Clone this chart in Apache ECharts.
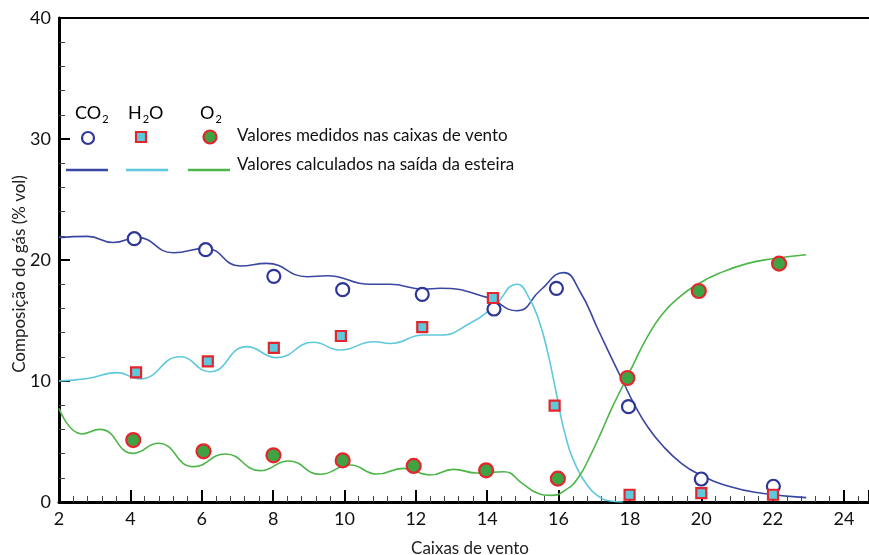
<!DOCTYPE html>
<html>
<head>
<meta charset="utf-8">
<script src="https://cdn.jsdelivr.net/npm/echarts@6/dist/echarts.min.js"></script>
<style>html,body{margin:0;padding:0;background:#fff}#c{width:869px;height:555px}</style>
</head>
<body>
<div id="c"></div>
<script>
// Measured values (box number, % vol)
const co2Measured = [[4.11,21.76],[6.11,20.85],[8.02,18.65],[9.95,17.55],[12.18,17.16],[14.19,15.95],[15.94,17.66],[17.96,7.88],[20.0,1.9],[22.02,1.3]];
const h2oMeasured = [[4.16,10.72],[6.17,11.62],[8.02,12.73],[9.9,13.72],[12.18,14.46],[14.16,16.86],[15.89,7.96],[17.99,0.6],[20.0,0.74],[22.01,0.6]];
const o2Measured  = [[4.08,5.12],[6.05,4.19],[8.01,3.86],[9.95,3.44],[11.94,2.98],[13.97,2.62],[15.98,1.93],[17.93,10.25],[19.93,17.44],[22.18,19.7]];
// Calculated values at the strand exit
const co2Calc = [[2,21.85],[2.8,21.95],[3.52,21.45],[4.2,21.85],[5.2,20.6],[6.11,20.96],[7.08,19.5],[7.82,19.72],[8.95,18.62],[9.51,18.7],[10.72,17.99],[11.27,17.99],[12.22,17.6],[12.68,17.66],[13.99,16.91],[14.84,15.8],[15.49,17.5],[16.14,18.96],[16.6,17.4],[17.1,14.3],[17.5,11.8],[17.8,10.0],[18.1,8.2],[18.5,6.2],[18.95,4.55],[19.4,3.3],[19.88,2.37],[20.82,1.26],[21.75,0.7],[22.94,0.36]];
const h2oCalc = [[2,10.0],[2.8,10.2],[3.62,10.69],[4.27,10.17],[5.39,12.0],[6.23,10.77],[7.26,12.84],[8.1,11.93],[9.13,13.2],[9.88,12.56],[10.82,13.25],[11.28,13.1],[12.22,13.8],[12.68,13.8],[13.52,14.77],[14.18,16.14],[14.84,18.0],[15.15,17.0],[15.45,15.0],[15.7,12.3],[15.95,8.8],[16.2,5.4],[16.5,2.9],[16.8,1.4],[17.1,0.5],[17.45,0.08],[17.8,0]];
const o2Calc = [[2,7.74],[2.64,5.62],[3.15,6.0],[4.08,4.02],[4.78,4.85],[5.77,2.92],[6.66,3.97],[7.64,2.59],[8.43,3.39],[9.32,2.29],[10.16,3.06],[10.91,2.31],[11.66,2.78],[12.4,2.23],[13.06,2.7],[13.7,2.4],[14.46,2.5],[15.0,1.5],[15.4,0.75],[15.8,0.55],[16.2,1.0],[16.55,2.0],[16.9,3.9],[17.2,5.8],[17.5,7.8],[17.8,9.6],[18.1,11.4],[18.48,13.6],[18.9,15.5],[19.41,17.0],[19.9,18.0],[20.5,18.9],[21.28,19.7],[22.0,20.1],[22.94,20.44]];
const xTicks = [2,4,6,8,10,12,14,16,18,20,22,24];
const yTicks = [0,10,20,30,40];

const FONT = 'Lato';
const C_CO2 = '#3a47a2', C_H2O = '#5ec8dc', C_O2 = '#4cb648', C_RED = '#e3262d', C_GREEN = '#3fa343', C_DOT = '#2e3796';

const chart = echarts.init(document.getElementById('c'));
const sub = {n:{fontSize:18,fontFamily:FONT,color:'#111'}, s:{fontSize:11,fontFamily:FONT,color:'#111',padding:[12,0,0,1]}};
chart.setOption({
  animation:false,
  textStyle:{fontFamily:FONT},
  grid:{left:59, right:0, top:18, bottom:53, containLabel:false, outerBoundsMode:'none'},
  xAxis:[{
    type:'value', min:2, max:24.7, interval:2,
    name:'Caixas de vento', nameLocation:'middle', nameGap:38, nameMoveOverlap:false,
    nameTextStyle:{fontSize:17, color:'#222', fontFamily:FONT, padding:[0,0,0,12]},
    axisLine:{onZero:false, lineStyle:{color:'#000', width:3}},
    axisTick:{inside:true, length:12, lineStyle:{color:'#000', width:2}},
    minorTick:{show:true, splitNumber:5, length:6, lineStyle:{color:'#444', width:1}},
    axisLabel:{fontSize:18, color:'#111', margin:8, showMaxLabel:false,
      formatter:v=> xTicks.includes(v) ? String(v) : ''},
    splitLine:{show:false}
  },{
    type:'value', min:2, max:24.7, position:'top',
    axisLine:{show:true, onZero:false, lineStyle:{color:'#000', width:2}},
    axisTick:{show:false}, axisLabel:{show:false}, splitLine:{show:false}
  }],
  yAxis:{
    type:'value', min:0, max:40, interval:10,
    name:'Composição do gás (% vol)', nameLocation:'middle', nameGap:31, nameMoveOverlap:false,
    nameTextStyle:{fontSize:17, color:'#222', fontFamily:FONT, padding:[0,28,0,0]},
    axisLine:{show:true, onZero:false, lineStyle:{color:'#000', width:3}},
    axisTick:{inside:true, length:11, lineStyle:{color:'#000', width:2}},
    minorTick:{show:true, splitNumber:5, length:6, lineStyle:{color:'#444', width:1}},
    axisLabel:{fontSize:18, color:'#111', margin:8, formatter:v=> yTicks.includes(v) ? String(v) : ''},
    splitLine:{show:false}
  },
  series:[
    {type:'line', data:co2Calc, smooth:0.5, showSymbol:false, lineStyle:{color:C_CO2, width:1.6}, z:2},
    {type:'line', data:h2oCalc, smooth:0.5, showSymbol:false, lineStyle:{color:C_H2O, width:1.6}, z:2},
    {type:'line', data:o2Calc, smooth:0.5, showSymbol:false, lineStyle:{color:C_O2, width:1.6}, z:2},
    {type:'scatter', data:co2Measured, symbol:'circle', symbolSize:13, itemStyle:{color:'#fff', borderColor:C_DOT, borderWidth:2.2, opacity:1}, z:5},
    {type:'scatter', data:h2oMeasured, symbol:'rect', symbolSize:10, itemStyle:{color:C_H2O, borderColor:C_RED, borderWidth:2.2, opacity:1}, z:5},
    {type:'scatter', data:o2Measured, symbol:'circle', symbolSize:14, itemStyle:{color:C_GREEN, borderColor:C_RED, borderWidth:2.2, opacity:1}, z:5}
  ],
  graphic:[
    {type:'text', left:75, top:104, style:{text:'{n|CO}{s|2}', rich:sub}},
    {type:'text', left:128, top:104, style:{text:'{n|H}{s|2}{n|O}', rich:sub}},
    {type:'text', left:200, top:104, style:{text:'{n|O}{s|2}', rich:sub}},
    {type:'circle', shape:{cx:88, cy:138, r:6}, style:{fill:'#fff', stroke:C_DOT, lineWidth:2.2}},
    {type:'rect', shape:{x:136, y:132, width:10, height:10}, style:{fill:C_H2O, stroke:C_RED, lineWidth:2.2}},
    {type:'circle', shape:{cx:210, cy:137, r:6.5}, style:{fill:C_GREEN, stroke:C_RED, lineWidth:2.2}},
    {type:'text', left:237, top:127, style:{text:'Valores medidos nas caixas de vento', fontSize:17, fontFamily:FONT, fill:'#111'}},
    {type:'line', shape:{x1:66, y1:170, x2:108, y2:170}, style:{stroke:C_CO2, lineWidth:2.5}},
    {type:'line', shape:{x1:126, y1:170, x2:168, y2:170}, style:{stroke:C_H2O, lineWidth:2.5}},
    {type:'line', shape:{x1:188, y1:170, x2:230, y2:170}, style:{stroke:C_O2, lineWidth:2.5}},
    {type:'text', left:237, top:156, style:{text:'Valores calculados na saída da esteira', fontSize:17, fontFamily:FONT, fill:'#111'}}
  ]
});
</script>
</body>
</html>
